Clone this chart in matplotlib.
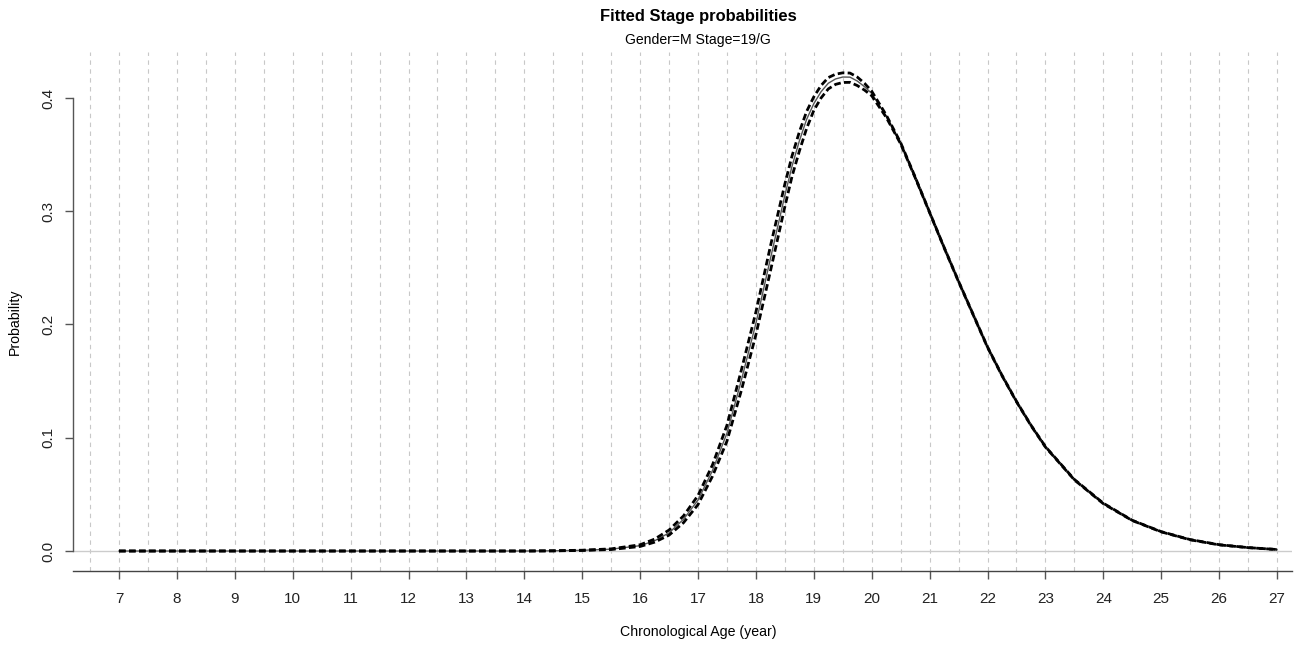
import numpy as np
import matplotlib
matplotlib.use("Agg")
import matplotlib.pyplot as plt

plt.rcParams['font.family'] = ['Liberation Sans', 'DejaVu Sans']

# values
ages = [7, 8, 9, 10, 11, 12, 13, 14, 14.5, 15, 15.5, 16, 16.25, 16.5, 16.75,
        17, 17.25, 17.5, 17.75, 18, 18.25, 18.5, 18.625, 18.75, 18.875, 19, 19.125,
        19.25, 19.375, 19.5, 19.625, 19.75, 19.875,
        20, 20.25, 20.5, 20.75, 21, 21.25, 21.5, 21.75, 22, 22.25, 22.5, 22.75,
        23, 23.5, 24, 24.5, 25, 25.5, 26, 26.5, 27]
prob = [0.0, 0.0, 0.0, 0.0, 0.0, 0.0, 0.0, 0.0, 0.0002, 0.0006, 0.0016, 0.0047, 0.009, 0.016, 0.028,
        0.045, 0.071, 0.104, 0.151, 0.201, 0.258, 0.314, 0.340, 0.362, 0.381, 0.395, 0.4055,
        0.413, 0.4168, 0.4185, 0.4184, 0.415, 0.410,
        0.404, 0.384, 0.360, 0.330, 0.299, 0.268, 0.238, 0.209, 0.180, 0.155, 0.132, 0.111,
        0.092, 0.063, 0.042, 0.027, 0.017, 0.010, 0.0055, 0.003, 0.0013]
upper = [0.0, 0.0, 0.0, 0.0, 0.0, 0.0, 0.0, 0.0, 0.0002, 0.0007, 0.0019, 0.0055, 0.0105, 0.0185, 0.031,
         0.049, 0.076, 0.111, 0.160, 0.211, 0.269, 0.324, 0.349, 0.370, 0.388, 0.401, 0.411,
         0.418, 0.421, 0.4222, 0.4220, 0.4185, 0.413,
         0.406, 0.385, 0.3605, 0.3303, 0.2992, 0.2682, 0.2382, 0.2092, 0.1802, 0.1552, 0.1322, 0.1112,
         0.0922, 0.0632, 0.0422, 0.0271, 0.0171, 0.0101, 0.0056, 0.003, 0.0013]
lower = [0.0, 0.0, 0.0, 0.0, 0.0, 0.0, 0.0, 0.0, 0.0001, 0.0005, 0.0013, 0.0040, 0.0078, 0.0140, 0.025,
         0.041, 0.066, 0.097, 0.142, 0.191, 0.247, 0.304, 0.331, 0.353, 0.373, 0.389, 0.400,
         0.408, 0.412, 0.4137, 0.4138, 0.411, 0.407,
         0.402, 0.383, 0.3595, 0.3297, 0.2988, 0.2678, 0.2378, 0.2088, 0.1798, 0.1548, 0.1318, 0.1108,
         0.0918, 0.0628, 0.0418, 0.0269, 0.0169, 0.0099, 0.0054, 0.003, 0.0013]

xticks = list(range(7, 28))
yticks = [0.0, 0.1, 0.2, 0.3, 0.4]
grid_x = np.arange(6.5, 27.51, 0.5)

fig = plt.figure(figsize=(12.98, 6.46), dpi=100)
ax = fig.add_axes([73 / 1298, 1 - 571 / 646, (1292 - 73) / 1298, (571 - 52) / 646])

ax.set_xlim(6.2055, 27.259)
ax.set_ylim(-0.01766, 0.4406)

for gx in grid_x:
    ax.axvline(gx, color='#c8c8c8', lw=0.8, ls=(0, (4, 4)), zorder=1)
ax.axhline(0, color='#cccccc', lw=1.0, zorder=1)

ax.plot(ages, prob, color='#555555', lw=1.0, zorder=3)
ax.plot(ages, upper, color='black', lw=2.0, dashes=(2.4, 1.2), zorder=4)
ax.plot(ages, lower, color='black', lw=2.0, dashes=(2.4, 1.2), zorder=4)

for s in ['top', 'right']:
    ax.spines[s].set_visible(False)
ax.spines['left'].set_bounds(0, 0.4)
ax.spines['left'].set_color('#555555')
ax.spines['bottom'].set_color('#444444')
ax.spines['left'].set_linewidth(1.0)
ax.spines['bottom'].set_linewidth(1.0)

ax.set_xticks(xticks)
ax.set_xticklabels([str(t) for t in xticks])
ax.set_yticks(yticks)
ax.set_yticklabels([f"{t:.1f}" for t in yticks], rotation=90, va='center')
ax.tick_params(axis='x', length=6, width=1, color='#555555', pad=9, labelsize=11, labelcolor='#222222')
ax.tick_params(axis='y', length=6, width=1, color='#555555', pad=7, labelsize=11, labelcolor='#222222')

fig.text(0.5377, 1 - 16 / 646, "Fitted Stage probabilities", ha='center', va='center',
         fontsize=11.9, fontweight='bold')
fig.text(0.5377, 1 - 40 / 646, "Gender=M Stage=19/G", ha='center', va='center', fontsize=10.1)
fig.text(0.5377, 1 - 632 / 646, "Chronological Age (year)", ha='center', va='center', fontsize=10.2)
fig.text(15 / 1298, 1 - 322 / 646, "Probability", ha='center', va='center', rotation=90, fontsize=10.2)

fig.savefig("out.png", dpi=100)
